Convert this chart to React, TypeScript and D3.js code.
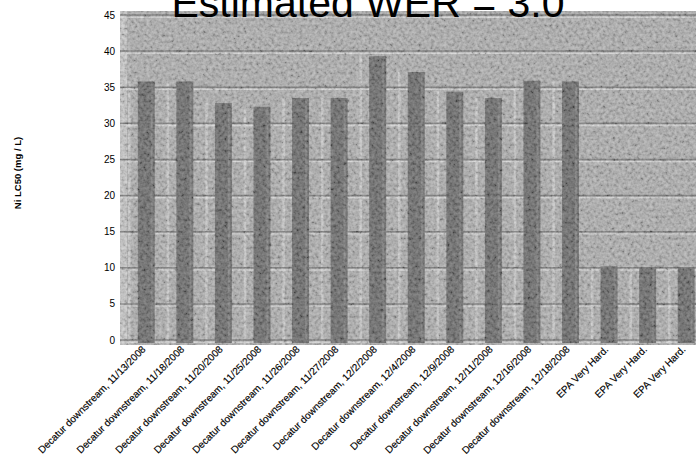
import React from "react";
import * as d3 from "d3";

const categories = [
  "Decatur downstream, 11/13/2008",
  "Decatur downstream, 11/18/2008",
  "Decatur downstream, 11/20/2008",
  "Decatur downstream, 11/25/2008",
  "Decatur downstream, 11/26/2008",
  "Decatur downstream, 11/27/2008",
  "Decatur downstream, 12/2/2008",
  "Decatur downstream, 12/4/2008",
  "Decatur downstream, 12/9/2008",
  "Decatur downstream, 12/11/2008",
  "Decatur downstream, 12/16/2008",
  "Decatur downstream, 12/18/2008",
  "EPA Very Hard.",
  "EPA Very Hard.",
  "EPA Very Hard.",
];
const values = [35.8, 35.8, 32.8, 32.3, 33.5, 33.5, 39.3, 37.1, 34.4, 33.5, 35.9, 35.8, 10.2, 10.1, 10.1];
const yTicks = [0, 5, 10, 15, 20, 25, 30, 35, 40, 45];
const title = "Estimated WER = 3.0";
const yLabel = "Ni LC50 (mg / L)";

export default function App() {
  const W = 696, H = 470;
  const plotL = 120, plotT = 11, plotB = 345, plotR = 696;
  const y = d3.scaleLinear().domain([0, 45]).range([340, 15]);
  const idx = categories.map((_, i) => String(i));
  const x = d3.scaleBand().domain(idx).range([127, 705.5]).paddingInner(0.56).paddingOuter(0.28);
  const bw = x.bandwidth();
  const step = x.step();
  const font = "'Liberation Sans', Arial, sans-serif";
  return (
    <svg width={W} height={H} style={{ position: "absolute", left: 0, top: 0, background: "#fff" }}>
      <defs>
        <filter id="noise" x="0" y="0" width="100%" height="100%">
          <feTurbulence type="fractalNoise" baseFrequency="0.32" numOctaves="2" seed="7" result="t" />
          <feColorMatrix in="t" type="matrix"
            values="1.6 0 0 0 -0.3  1.6 0 0 0 -0.3  1.6 0 0 0 -0.3  0 0 0 0 0.28" result="g" />
          <feGaussianBlur in="g" stdDeviation="0.6" />
        </filter>
        <filter id="blur">
          <feGaussianBlur stdDeviation="0.7" />
        </filter>
        <clipPath id="plotclip">
          <rect x={plotL} y={plotT} width={plotR - plotL} height={plotB - plotT} />
        </clipPath>
      </defs>
      <g clipPath="url(#plotclip)">
        <g filter="url(#blur)">
          <rect x={plotL} y={plotT} width={plotR - plotL} height={plotB - plotT} fill="#a8a8a8" />
          <rect x={plotL} y={plotT} width={7} height={plotB - plotT} fill="#c2c2c2" />
          {idx.map((d, i) => (
            <line key={"v" + i} x1={(x(d) as number) - step * 0.22} x2={(x(d) as number) - step * 0.22}
              y1={i < 12 ? y(values[i]) : y(10)} y2={plotB} stroke="#c4c4c4" strokeWidth={2.5} />
          ))}
          {yTicks.map((t) => (
            <g key={"g" + t}>
              <line x1={plotL} x2={plotR} y1={y(t)} y2={y(t)} stroke="#6a6a6a" strokeWidth={1.5} />
              <line x1={plotL} x2={plotR} y1={y(t) + 2.2} y2={y(t) + 2.2} stroke="#d2d2d2" strokeWidth={1.4} />
            </g>
          ))}
          {values.map((v, i) => (
            <rect key={"b" + i} x={x(String(i))} y={y(v)} width={bw} height={y(0) - y(v) + 3} fill="#5c5c5c" />
          ))}
          {values.map((v, i) => (
            <line key={"s" + i} x1={(x(String(i)) as number) + bw - 3} x2={(x(String(i)) as number) + bw - 3}
              y1={y(v) + 3} y2={y(0)} stroke="#707070" strokeWidth={2} />
          ))}
        </g>
        <rect x={plotL} y={plotT} width={plotR - plotL} height={plotB - plotT} filter="url(#noise)" />
      </g>
      <text x={368} y={17} textAnchor="middle" fontFamily={font} fontSize={41} fill="#000">{title}</text>
      {yTicks.map((t) => (
        <text key={"t" + t} x={115} y={y(t) + 3.5} textAnchor="end" fontFamily={font} fontSize={10} fill="#000">{t}</text>
      ))}
      <text transform={`translate(21,${173}) rotate(-90)`} textAnchor="middle" fontFamily={font} fontSize={9.5}
        fontWeight="bold" fill="#000">{yLabel}</text>
      {categories.map((c, i) => {
        const cx = (x(String(i)) as number) + bw / 2;
        return (
          <text key={"x" + i} transform={`translate(${cx},${350}) rotate(-45)`} textAnchor="end"
            fontFamily={font} fontSize={10} fill="#000" stroke="#000" strokeWidth={0.15}>{c}</text>
        );
      })}
    </svg>
  );
}
